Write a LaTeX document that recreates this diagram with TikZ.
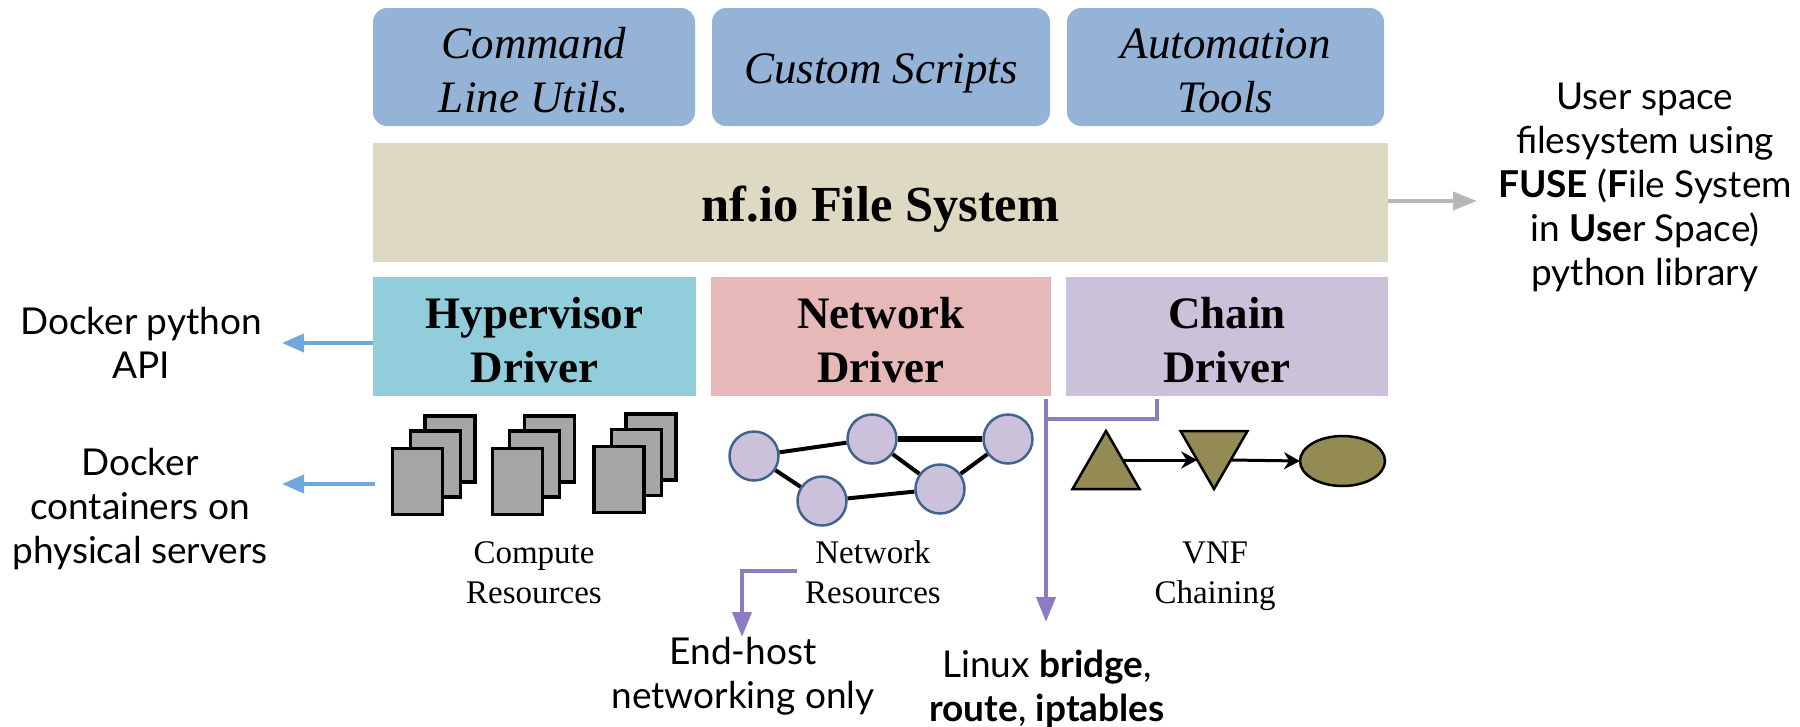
\documentclass[tikz,border=0pt]{standalone}
\usepackage{fontspec}
\setmainfont{Liberation Serif}
\newfontfamily\notefont{Lato}
\usetikzlibrary{arrows.meta, positioning, shapes.geometric}
\usepackage{xcolor}
\definecolor{toolblue}{HTML}{95B3D7}
\definecolor{fsbeige}{HTML}{DDD9C3}
\definecolor{hvcyan}{HTML}{92CDDC}
\definecolor{netpink}{HTML}{E6B8B7}
\definecolor{chainlilac}{HTML}{CCC1DA}
\definecolor{vnfolive}{HTML}{948A54}
\definecolor{ringblue}{HTML}{41648F}
\definecolor{notelilac}{HTML}{8E7CC3}
\definecolor{noteblue}{HTML}{6FA8DC}
\definecolor{notegray}{HTML}{B7B7B7}
\newcommand{\dropline}[1]{\rule{0pt}{#1}}

\begin{document}
\begin{tikzpicture}[
x=1pt, y=-1pt,
box/.style={rectangle,
inner sep=0pt,
outer sep=0pt,
minimum height=118pt,
align=center},
toolbox/.style={box,
rounded corners=14pt,
fill=toolblue,
font=\fontsize{45}{54}\selectfont\itshape},
driver/.style={box,
minimum height=119pt,
font=\fontsize{45}{54}\selectfont\bfseries},
server/.style={rectangle, draw=black, fill=black!35, line width=3.5pt,
minimum width=50pt, minimum height=66pt, inner sep=0pt},
netnode/.style={circle, draw=ringblue, fill=chainlilac, line width=2.5pt,
minimum size=49pt, inner sep=0pt},
netlink/.style={line width=4pt},
vnf/.style={draw=black, fill=vnfolive, line width=2.5pt, inner sep=0pt, outer sep=0pt},
vnftri/.style={vnf, isosceles triangle, isosceles triangle apex angle=60, minimum height=58pt},
vnfarrow/.style={-{Stealth[length=16pt, width=17pt]}, line width=3pt},
caption/.style={align=center, font=\fontsize{33}{40}\selectfont},
note/.style={align=center, font=\notefont\fontsize{37}{44}\selectfont},
bluearrow/.style={-{Triangle[length=22pt, width=18pt]}, noteblue, line width=4pt},
grayarrow/.style={-{Triangle[length=24pt, width=18pt]}, notegray, line width=4pt},
lilacarrow/.style={-{Triangle[length=25pt, width=19pt]}, notelilac, line width=4pt},
lilacline/.style={notelilac, line width=4pt}
]
\useasboundingbox (0,0) rectangle (1800,726);

% tools on top
\node[toolbox, minimum width=322pt] (cmdline) at (534,67) {\dropline{37pt}Command\\Line Utils.};
\node[toolbox, minimum width=338pt, right=17pt of cmdline] (scripts) {\dropline{43pt}Custom Scripts};
\node[toolbox, minimum width=317pt, right=17pt of scripts] (autotools) {\dropline{37pt}Automation\\Tools};

\node[box, fill=fsbeige, minimum width=1015pt, minimum height=119pt,
font=\fontsize{50.5}{60}\selectfont\bfseries] (nffs) at (880.5,202.5) {\dropline{48pt}nf.io File System};

% drivers
\node[driver, fill=hvcyan, minimum width=323pt] (hvdriver) at (534.5,336.5) {\dropline{39pt}Hypervisor\\Driver};
\node[driver, fill=netpink, minimum width=340pt, right=15pt of hvdriver] (netdriver) {\dropline{39pt}Network\\Driver};
\node[driver, fill=chainlilac, minimum width=322pt, right=15pt of netdriver] (chaindriver) {\dropline{39pt}Chain\\Driver};

% compute stacks
\foreach \sx/\sy/\sname in {450/449/a1, 435.5/464/a2, 417.5/481.5/a3,
549.5/449/b1, 534.5/464/b2, 517.5/481.5/b3,
651/447/c1, 636.5/462.5/c2, 619/479.5/c3}
{
\node[server] (srv\sname) at (\sx,\sy) {};
}

% network resources
\node[netnode] (neta) at (754,456) {};
\node[netnode] (netb) at (872,439) {};
\node[netnode] (netc) at (1008,439) {};
\node[netnode] (netd) at (822,501) {};
\node[netnode] (nete) at (940,489) {};
\draw[netlink] (neta) -- (netb);
\draw[netlink] (neta) -- (netd);
\draw[netlink, line width=6pt] (netb) -- (netc);
\draw[netlink] (netb) -- (nete);
\draw[netlink] (netc) -- (nete);
\draw[netlink] (netd) -- (nete);

% vnf chain
\node[vnftri, shape border rotate=90, anchor=apex] (vnfup) at (1106,431) {};
\node[vnftri, shape border rotate=270, anchor=apex] (vnfdown) at (1214,489) {};
\node[vnf, ellipse, minimum width=85pt, minimum height=50pt] (vnfoval) at (1342.5,461) {};
\draw[vnfarrow] (vnfup.right side) -- (vnfdown.right side);
\draw[vnfarrow] (vnfdown.left side) -- (vnfoval.west);

% captions
\node[caption] (computelbl) at (534,573) {Compute\\Resources};
\node[caption] (networklbl) at (873,572.5) {Network\\Resources};
\node[caption] (chainlbl) at (1215,576) {VNF\\Chaining};

% side notes
\node[note] (dockerapi) at (141,343) {Docker python\\API};
\node[note] (dockerhost) at (140,509) {Docker\\containers on\\physical servers};
\node[note] (fusenote) at (1645,187) {User space\\filesystem using\\\textbf{FUSE} (\textbf{F}ile System\\in \textbf{Use}r Space)\\python library};
\node[note] (endhost) at (743,676) {End-host\\networking only};
\node[note] (linuxnote) at (1047,689) {Linux \textbf{bridge},\\\textbf{route}, \textbf{iptables}};

% free ends of the connectors
\coordinate (apitip) at (282,343);
\coordinate (hoststart) at (375,484);
\coordinate (hosttip) at (282,484);
\coordinate (fusetip) at (1477,201);
\coordinate (endstart) at (797,571);
\coordinate (endbend) at (742,571);
\coordinate (endtip) at (742,637);
\coordinate (bridgetop) at (1046,399);
\coordinate (bridgetip) at (1046,622);
\coordinate (chaintop) at (1157,399);
\coordinate (chainbend) at (1157,419);
\coordinate (bridgebend) at (1046,419);

\draw[bluearrow] (hvdriver.west |- apitip) -- (apitip);
\draw[bluearrow] (hoststart) -- (hosttip);
\draw[grayarrow] (nffs.east |- fusetip) -- (fusetip);
\draw[lilacarrow] (endstart) -- (endbend) -- (endtip);
\draw[lilacarrow] (bridgetop) -- (bridgetip);
\draw[lilacline] (chaintop) -- (chainbend) -- (bridgebend);

\end{tikzpicture}
\end{document}
